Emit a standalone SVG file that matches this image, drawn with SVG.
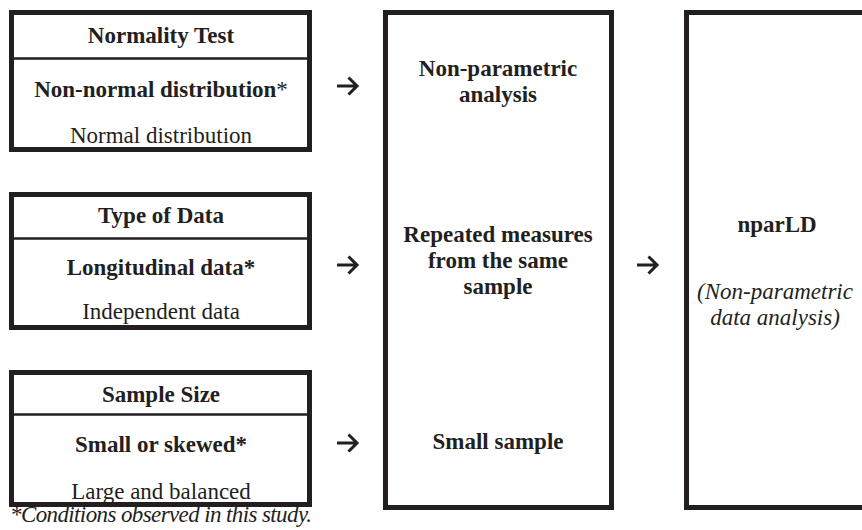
<svg xmlns="http://www.w3.org/2000/svg" width="862" height="530" viewBox="0 0 862 530">
<defs>
<style>
.box{fill:#fff;stroke:#231f20;stroke-width:5}
.div{stroke:#231f20;stroke-width:2.5}
.t{font-family:"Liberation Serif","Times New Roman",serif;font-size:23px;fill:#231f20;text-anchor:middle}
.b{font-weight:bold}
.i{font-style:italic}
.arr{fill:none;stroke:#231f20;stroke-width:3;stroke-linecap:butt;stroke-linejoin:miter}
</style>
</defs>
<rect width="862" height="530" fill="#fff"/>
<g id="normality-test">
<rect class="box" x="11.5" y="12.5" width="298" height="137"/>
<line class="div" x1="14" y1="58.5" x2="307" y2="58.5"/>
<text class="t b" x="161" y="43">Normality Test</text>
<text class="t b" x="161" y="97">Non-normal distribution<tspan font-weight="normal">*</tspan></text>
<text class="t" x="161" y="143">Normal distribution</text>
</g>
<g id="type-of-data">
<rect class="box" x="11.5" y="194.5" width="298" height="133"/>
<line class="div" x1="14" y1="238.5" x2="307" y2="238.5"/>
<text class="t b" x="161" y="223">Type of Data</text>
<text class="t b" x="161" y="275">Longitudinal data*</text>
<text class="t" x="161" y="319">Independent data</text>
</g>
<g id="sample-size">
<rect class="box" x="11.5" y="372.5" width="298" height="132"/>
<line class="div" x1="14" y1="414.5" x2="307" y2="414.5"/>
<text class="t b" x="161" y="402">Sample Size</text>
<text class="t b" x="161" y="452">Small or skewed*</text>
<text class="t" x="161" y="499">Large and balanced</text>
</g>
<g id="analysis-requirements">
<rect class="box" x="385.5" y="12.5" width="226" height="495"/>
<text class="t b" x="498" y="76">Non-parametric</text>
<text class="t b" x="498" y="102">analysis</text>
<text class="t b" x="498" y="242">Repeated measures</text>
<text class="t b" x="498" y="268">from the same</text>
<text class="t b" x="498" y="294">sample</text>
<text class="t b" x="498" y="449">Small sample</text>
</g>
<g id="nparld">
<rect class="box" x="686.5" y="12.5" width="190" height="495"/>
<text class="t b" x="777" y="232" font-size="25">nparLD</text>
<text class="t i" x="775" y="299">(Non-parametric</text>
<text class="t i" x="775" y="325">data analysis)</text>
</g>
<g id="connectors">
<path class="arr" d="M337 86H357M348.5 77.5L357 86L348.5 94.5"/>
<path class="arr" d="M337 265H357M348.5 256.5L357 265L348.5 273.5"/>
<path class="arr" d="M337 443H357M348.5 434.5L357 443L348.5 451.5"/>
<path class="arr" d="M637 265H657M648.5 256.5L657 265L648.5 273.5"/>
</g>
<text class="t i" x="10" y="522" font-size="17" textLength="302" lengthAdjust="spacing" style="text-anchor:start">*Conditions observed in this study.</text>
</svg>
